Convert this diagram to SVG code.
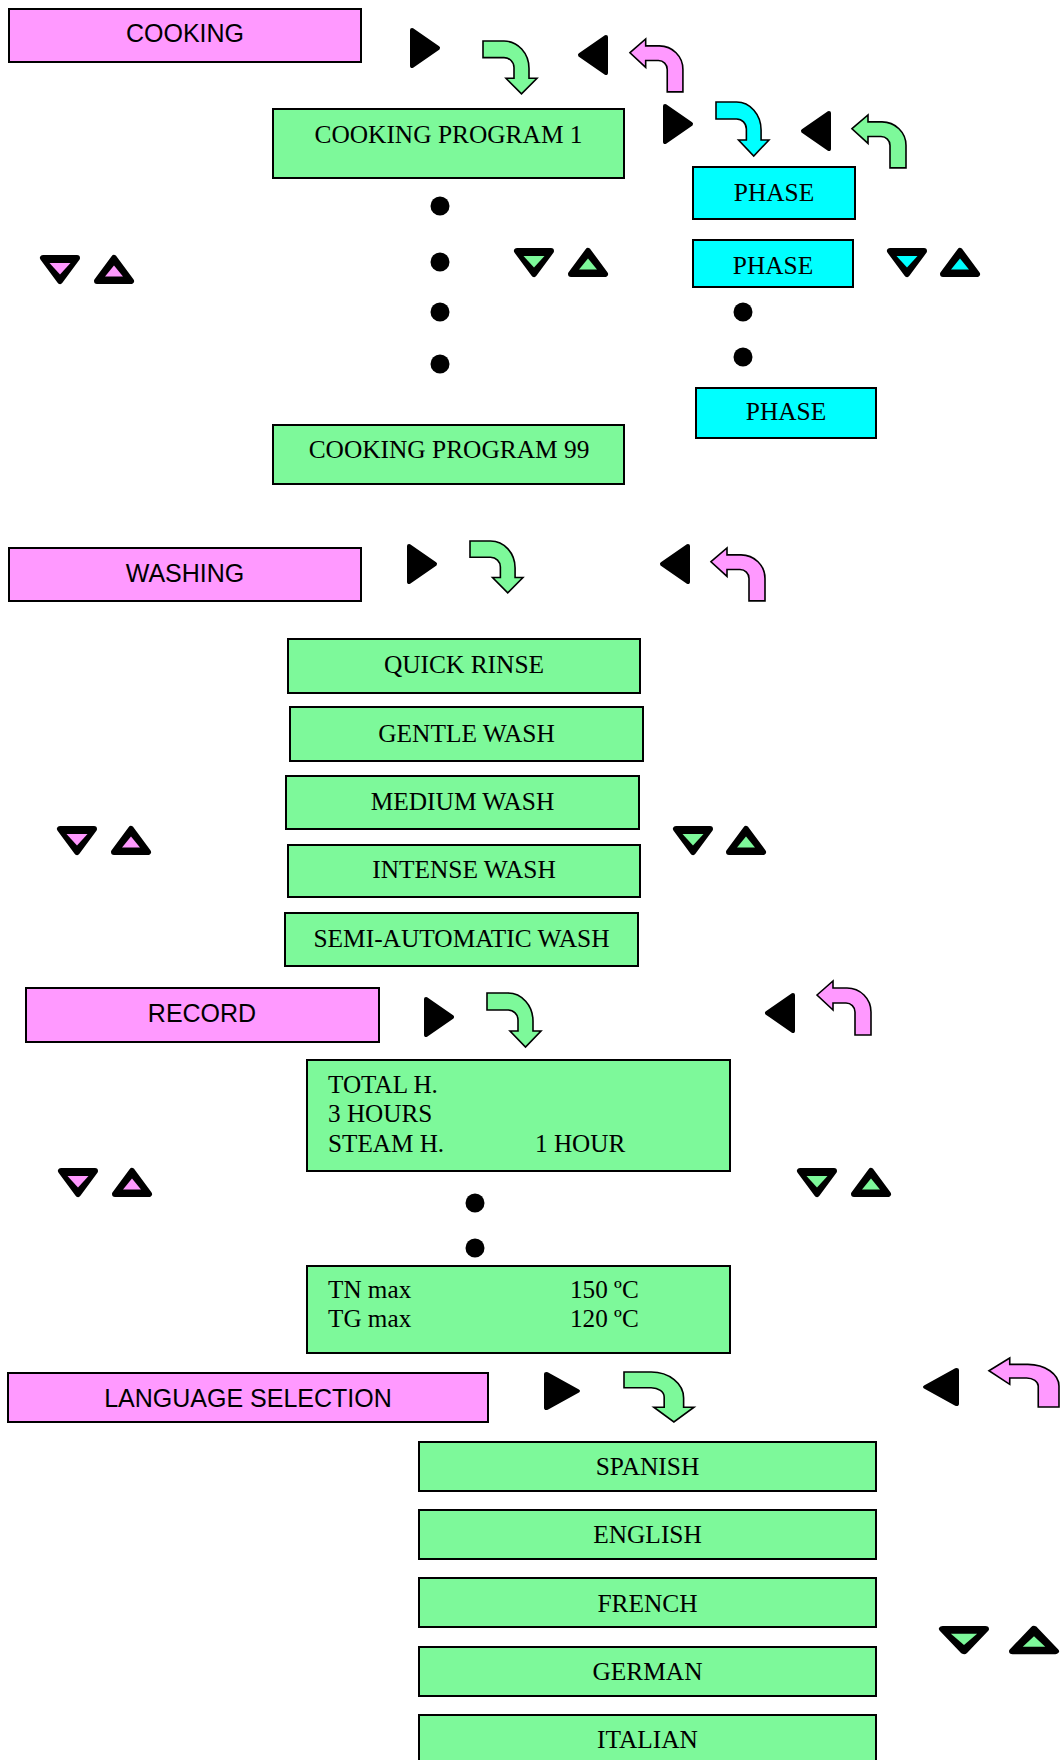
<svg xmlns="http://www.w3.org/2000/svg" xmlns:xlink="http://www.w3.org/1999/xlink" width="1062" height="1760" viewBox="0 0 1062 1760">
<style>
.hdr{fill:#ff99ff;stroke:#000;stroke-width:2}
.grn{fill:#7df99a;stroke:#000;stroke-width:2}
.cyn{fill:#00ffff;stroke:#000;stroke-width:2}
.ht{font-family:"Liberation Sans",Arial,sans-serif;font-size:25px;fill:#000;text-anchor:middle}
.bt{font-family:"Liberation Serif","Times New Roman",serif;font-size:25.4px;fill:#000;text-anchor:middle}
.lt{font-family:"Liberation Serif","Times New Roman",serif;font-size:25.2px;fill:#000}
.dot{fill:#000}
.arr{stroke:#000;stroke-width:1.6;stroke-linejoin:miter}
</style>
<defs>
<path id="downArrow" class="arr" vector-effect="non-scaling-stroke" d="M0,0 H21 A25,28 0 0 1 46,28 V38 H54 L38.5,54 L23,38 H31 V27 A10,10 0 0 0 21,17 H0 Z"/>
<path id="retArrow" class="arr" vector-effect="non-scaling-stroke" d="M0,14 L16,0 V7 H30 A24,24 0 0 1 54,31 V54 H38 V31 A9,9 0 0 0 29,22 H16 V29 Z"/>
<polygon id="play" points="2,2 28,20 2,38" fill="#000" stroke="#000" stroke-width="4" stroke-linejoin="round"/>
<polygon id="back" points="28,2 2,20 28,38" fill="#000" stroke="#000" stroke-width="4" stroke-linejoin="round"/>
<g id="tdown">
<polygon points="3,3 37,3 20,26" fill="#000" stroke="#000" stroke-width="6" stroke-linejoin="round"/>
<polygon points="9.5,8 30.5,8 20,19.5" fill="currentColor"/>
</g>
<g id="tup">
<polygon points="20,3 37,26 3,26" fill="#000" stroke="#000" stroke-width="6" stroke-linejoin="round"/>
<polygon points="20,10.5 29,21.5 11,21.5" fill="currentColor"/>
</g>
</defs>

<!-- COOKING section -->
<g id="cooking"><rect class="hdr" x="9" y="9" width="352" height="53"/><text class="ht" x="185" y="42">COOKING</text></g>
<g id="cooking-program-1"><rect class="grn" x="273" y="109" width="351" height="69"/><text class="bt" x="448.5" y="143">COOKING PROGRAM 1</text></g>
<g id="cooking-program-99"><rect class="grn" x="273" y="425" width="351" height="59"/><text class="bt" x="449" y="458">COOKING PROGRAM 99</text></g>
<g id="phase-1"><rect class="cyn" x="693" y="167" width="162" height="52"/><text class="bt" x="774" y="201">PHASE</text></g>
<g id="phase-2"><rect class="cyn" x="693" y="240" width="160" height="47"/><text class="bt" x="773" y="274">PHASE</text></g>
<g id="phase-3"><rect class="cyn" x="696" y="388" width="180" height="50"/><text class="bt" x="786" y="420">PHASE</text></g>

<!-- WASHING section -->
<g id="washing"><rect class="hdr" x="9" y="548" width="352" height="53"/><text class="ht" x="185" y="582">WASHING</text></g>
<g id="quick-rinse"><rect class="grn" x="288" y="639" width="352" height="54"/><text class="bt" x="464" y="673">QUICK RINSE</text></g>
<g id="gentle-wash"><rect class="grn" x="290" y="707" width="353" height="54"/><text class="bt" x="466.5" y="742">GENTLE WASH</text></g>
<g id="medium-wash"><rect class="grn" x="286" y="776" width="353" height="53"/><text class="bt" x="462.5" y="810">MEDIUM WASH</text></g>
<g id="intense-wash"><rect class="grn" x="288" y="845" width="352" height="52"/><text class="bt" x="464" y="878">INTENSE WASH</text></g>
<g id="semi-automatic-wash"><rect class="grn" x="285" y="913" width="353" height="53"/><text class="bt" x="461.5" y="947">SEMI-AUTOMATIC WASH</text></g>

<!-- RECORD section -->
<g id="record"><rect class="hdr" x="26" y="988" width="353" height="54"/><text class="ht" x="202" y="1022">RECORD</text></g>
<g id="record-hours"><rect class="grn" x="307" y="1060" width="423" height="111"/>
<text class="lt" x="328" y="1093">TOTAL H.</text>
<text class="lt" x="328" y="1122">3 HOURS</text>
<text class="lt" x="328" y="1152">STEAM H.</text>
<text class="lt" x="535" y="1152">1 HOUR</text></g>
<g id="record-temps"><rect class="grn" x="307" y="1266" width="423" height="87"/>
<text class="lt" x="328" y="1298">TN max</text>
<text class="lt" x="570" y="1298">150 ºC</text>
<text class="lt" x="328" y="1327">TG max</text>
<text class="lt" x="570" y="1327">120 ºC</text></g>

<!-- LANGUAGE section -->
<g id="language-selection"><rect class="hdr" x="8" y="1373" width="480" height="49"/><text class="ht" x="248" y="1407">LANGUAGE SELECTION</text></g>
<g id="spanish"><rect class="grn" x="419" y="1442" width="457" height="49"/><text class="bt" x="647.5" y="1475">SPANISH</text></g>
<g id="english"><rect class="grn" x="419" y="1510" width="457" height="49"/><text class="bt" x="647.5" y="1543">ENGLISH</text></g>
<g id="french"><rect class="grn" x="419" y="1578" width="457" height="49"/><text class="bt" x="647.5" y="1612">FRENCH</text></g>
<g id="german"><rect class="grn" x="419" y="1647" width="457" height="49"/><text class="bt" x="647.5" y="1680">GERMAN</text></g>
<g id="italian"><rect class="grn" x="419" y="1715" width="457" height="60"/><text class="bt" x="647.5" y="1748">ITALIAN</text></g>

<!-- ellipsis dots -->
<g id="dots">
<circle class="dot" cx="440" cy="206" r="9.5"/>
<circle class="dot" cx="440" cy="262" r="9.5"/>
<circle class="dot" cx="440" cy="312" r="9.5"/>
<circle class="dot" cx="440" cy="364" r="9.5"/>
<circle class="dot" cx="743" cy="312" r="9.5"/>
<circle class="dot" cx="743" cy="357" r="9.5"/>
<circle class="dot" cx="475" cy="1203" r="9.5"/>
<circle class="dot" cx="475" cy="1248" r="9.5"/>
</g>

<!-- navigation symbols / connectors -->
<g id="connectors">
<!-- cooking -->
<use xlink:href="#play" transform="translate(410,28)"/>
<use xlink:href="#downArrow" fill="#7df99a" transform="translate(483,41) scale(1,0.98)"/>
<use xlink:href="#back" transform="translate(578,35)"/>
<use xlink:href="#retArrow" fill="#ff99ff" transform="translate(630,39) scale(0.98,0.98)"/>
<use xlink:href="#play" transform="translate(663,104)"/>
<use xlink:href="#downArrow" fill="#00ffff" transform="translate(716,102) scale(0.98,1)"/>
<use xlink:href="#back" transform="translate(801,111)"/>
<use xlink:href="#retArrow" fill="#7df99a" transform="translate(852,115) scale(1,0.98)"/>
<use xlink:href="#tdown" style="color:#ff99ff" transform="translate(40,255)"/>
<use xlink:href="#tup" style="color:#ff99ff" transform="translate(94,255)"/>
<use xlink:href="#tdown" style="color:#7df99a" transform="translate(514,248)"/>
<use xlink:href="#tup" style="color:#7df99a" transform="translate(568,248)"/>
<use xlink:href="#tdown" style="color:#00ffff" transform="translate(887,248)"/>
<use xlink:href="#tup" style="color:#00ffff" transform="translate(940,248)"/>
<!-- washing -->
<use xlink:href="#play" transform="translate(407,544)"/>
<use xlink:href="#downArrow" fill="#7df99a" transform="translate(470,541) scale(0.98,0.96)"/>
<use xlink:href="#back" transform="translate(660,544)"/>
<use xlink:href="#retArrow" fill="#ff99ff" transform="translate(711,548) scale(1,0.98)"/>
<use xlink:href="#tdown" style="color:#ff99ff" transform="translate(57,826)"/>
<use xlink:href="#tup" style="color:#ff99ff" transform="translate(111,826)"/>
<use xlink:href="#tdown" style="color:#7df99a" transform="translate(673,826)"/>
<use xlink:href="#tup" style="color:#7df99a" transform="translate(726,826)"/>
<!-- record -->
<use xlink:href="#play" transform="translate(424,997)"/>
<use xlink:href="#downArrow" fill="#7df99a" transform="translate(487,993)"/>
<use xlink:href="#back" transform="translate(765,993)"/>
<use xlink:href="#retArrow" fill="#ff99ff" transform="translate(817,981)"/>
<use xlink:href="#tdown" style="color:#ff99ff" transform="translate(58,1168)"/>
<use xlink:href="#tup" style="color:#ff99ff" transform="translate(112,1168)"/>
<use xlink:href="#tdown" style="color:#7df99a" transform="translate(797,1168)"/>
<use xlink:href="#tup" style="color:#7df99a" transform="translate(851,1168)"/>
<!-- language -->
<use xlink:href="#play" transform="translate(544,1372) scale(1.2,0.95)"/>
<use xlink:href="#downArrow" fill="#7df99a" transform="translate(624,1372) scale(1.296,0.926)"/>
<use xlink:href="#back" transform="translate(923,1368) scale(1.2,0.95)"/>
<use xlink:href="#retArrow" fill="#ff99ff" transform="translate(989,1358) scale(1.296,0.907)"/>
<use xlink:href="#tdown" style="color:#7df99a" transform="translate(939,1626) scale(1.25,0.97)"/>
<use xlink:href="#tup" style="color:#7df99a" transform="translate(1009,1626) scale(1.25,0.97)"/>
</g>
</svg>
